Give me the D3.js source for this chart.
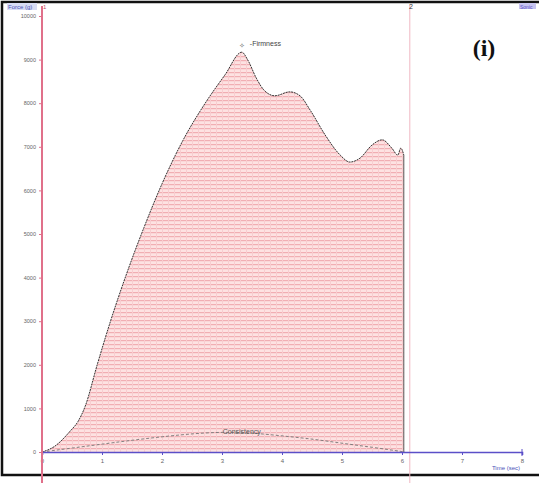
<!DOCTYPE html>
<html><head><meta charset="utf-8">
<script src="https://cdn.jsdelivr.net/npm/d3@7"></script>
<style>body{margin:0;background:#fff}svg{display:block}</style>
</head><body>
<script>
const timeVals = [0,0.2,0.47,0.6,0.72,0.92,1.13,1.4,1.7,2.0,2.35,2.72,3.05,3.33,3.43,3.57,3.7,3.88,4.13,4.3,4.47,4.72,4.97,5.13,5.3,5.5,5.67,5.83,5.93,5.98,6.03,6.05];
const forceVals = [0,120,480,700,1050,2000,2950,4050,5150,6150,7150,8000,8650,9170,8990,8580,8300,8170,8260,8170,7840,7270,6810,6650,6740,7040,7160,6970,6810,6970,6810,0];
const consTime = [0,0.5,1,1.5,2,2.5,3,3.5,4,4.5,5,5.5,6.05];
const consForce = [0,90,180,270,350,420,460,440,370,300,200,110,0];
const yTicks = [0,1000,2000,3000,4000,5000,6000,7000,8000,9000,10000];
const xTicks = [0,1,2,3,4,5,6,7,8];

const W=539,H=483;
const svg=d3.select("body").append("svg").attr("width",W).attr("height",H);
const x=d3.scaleLinear().domain([0,8]).range([42,522]);
const y=d3.scaleLinear().domain([0,10000]).range([452,16]);

const defs=svg.append("defs");
const pat=defs.append("pattern").attr("id","hatch").attr("patternUnits","userSpaceOnUse").attr("width",6).attr("height",4);
pat.append("rect").attr("width",6).attr("height",4).attr("fill","#fde2e2");
pat.append("rect").attr("y",0).attr("width",6).attr("height",1.2).attr("fill","#f1aeb3");
pat.append("rect").attr("x",0).attr("width",1).attr("height",4).attr("fill","#f8cdd0");

// frame
svg.append("rect").attr("x",2).attr("y",2).attr("width",540).attr("height",473).attr("fill","none").attr("stroke","#111").attr("stroke-width",2.5);

const pts=timeVals.map((t,i)=>[t,forceVals[i]]);
const area=d3.area().x(d=>x(d[0])).y0(y(0)).y1(d=>y(d[1])).curve(d3.curveMonotoneX);
svg.append("path").datum(pts.slice(0,-1).concat([[6.031,0]])).attr("d",area).attr("fill","url(#hatch)");
const line=d3.line().x(d=>x(d[0])).y(d=>y(d[1])).curve(d3.curveMonotoneX);
svg.append("path").datum(pts.slice(0,-1)).attr("d",line).attr("fill","none").attr("stroke","#333").attr("stroke-width",1).attr("stroke-dasharray","2,0.8");
svg.append("line").attr("x1",x(6.03)).attr("x2",x(6.03)).attr("y1",y(6810)).attr("y2",y(0)).attr("stroke","#555").attr("stroke-width",1);

// consistency
const cpts=consTime.map((t,i)=>[t,consForce[i]]);
svg.append("path").datum(cpts).attr("d",d3.line().x(d=>x(d[0])).y(d=>y(d[1])).curve(d3.curveBasis)).attr("fill","none").attr("stroke","#777").attr("stroke-width",0.9).attr("stroke-dasharray","3,2");

// right marker line
svg.append("line").attr("x1",x(6.13)).attr("x2",x(6.13)).attr("y1",5).attr("y2",483).attr("stroke","#f0b8c4").attr("stroke-width",1);

// x axis
const xa=svg.append("g").attr("transform",`translate(0,${y(0)})`).call(d3.axisBottom(x).tickValues(xTicks).tickSize(3).tickFormat(d3.format("d")));
xa.select(".domain").attr("stroke","#5b4fc8").attr("stroke-width",1.6);
xa.selectAll(".tick line").attr("stroke","#5b4fc8");
xa.selectAll("text").attr("fill","#666").attr("font-size",6).attr("font-family","Liberation Sans").attr("dy","0.9em");
svg.append("line").attr("x1",x(8)).attr("x2",x(8)).attr("y1",y(0)-3).attr("y2",y(0)+4).attr("stroke","#5b4fc8");

// y axis
const ya=svg.append("g").attr("transform",`translate(42,0)`).call(d3.axisLeft(y).tickValues(yTicks).tickSize(3).tickFormat(d3.format("d")));
ya.select(".domain").remove();
ya.selectAll(".tick line").attr("stroke","#e0708a");
ya.selectAll("text").attr("fill","#666").attr("font-size",5.5).attr("font-family","Liberation Sans");
svg.append("line").attr("x1",42).attr("x2",42).attr("y1",6).attr("y2",483).attr("stroke","#e0708a").attr("stroke-width",2);

// labels
svg.append("rect").attr("x",7).attr("y",3).attr("width",30).attr("height",7).attr("fill","#d8dcf4");
svg.append("text").attr("x",8).attr("y",9).text("Force (g)").attr("font-size",6).attr("fill","#4a52b8").attr("font-family","Liberation Sans");
svg.append("text").attr("x",43).attr("y",9).text("1").attr("font-size",6).attr("fill","#c05070").attr("font-family","Liberation Sans");
svg.append("text").attr("x",409).attr("y",9).text("2").attr("font-size",7).attr("fill","#333").attr("font-family","Liberation Sans");
svg.append("rect").attr("x",519).attr("y",3).attr("width",17).attr("height",6).attr("fill","#c8c4f0");
svg.append("text").attr("x",520).attr("y",8.5).text("Sonic").attr("font-size",5).attr("fill","#5b4fc8").attr("font-family","Liberation Sans");
svg.append("text").attr("x",520).attr("y",470).attr("text-anchor","end").text("Time (sec)").attr("font-size",6).attr("fill","#4a52b8").attr("font-family","Liberation Sans");
svg.append("text").attr("x",484).attr("y",56).attr("text-anchor","middle").text("(i)").attr("font-size",24).attr("font-weight","bold").attr("fill","#111").attr("font-family","Liberation Serif");
svg.append("text").attr("x",x(3.33)).attr("y",y(9170)-4).attr("text-anchor","middle").text("\u2727").attr("font-size",7).attr("fill","#666");
svg.append("text").attr("x",x(3.33)+8).attr("y",y(9170)-6).text("-Firmness").attr("font-size",7).attr("fill","#444").attr("font-family","Liberation Sans");
svg.append("text").attr("x",x(3.33)).attr("y",y(460)+2).attr("text-anchor","middle").text("Consistency").attr("font-size",7).attr("fill","#555").attr("font-family","Liberation Sans");
</script>
</body></html>
